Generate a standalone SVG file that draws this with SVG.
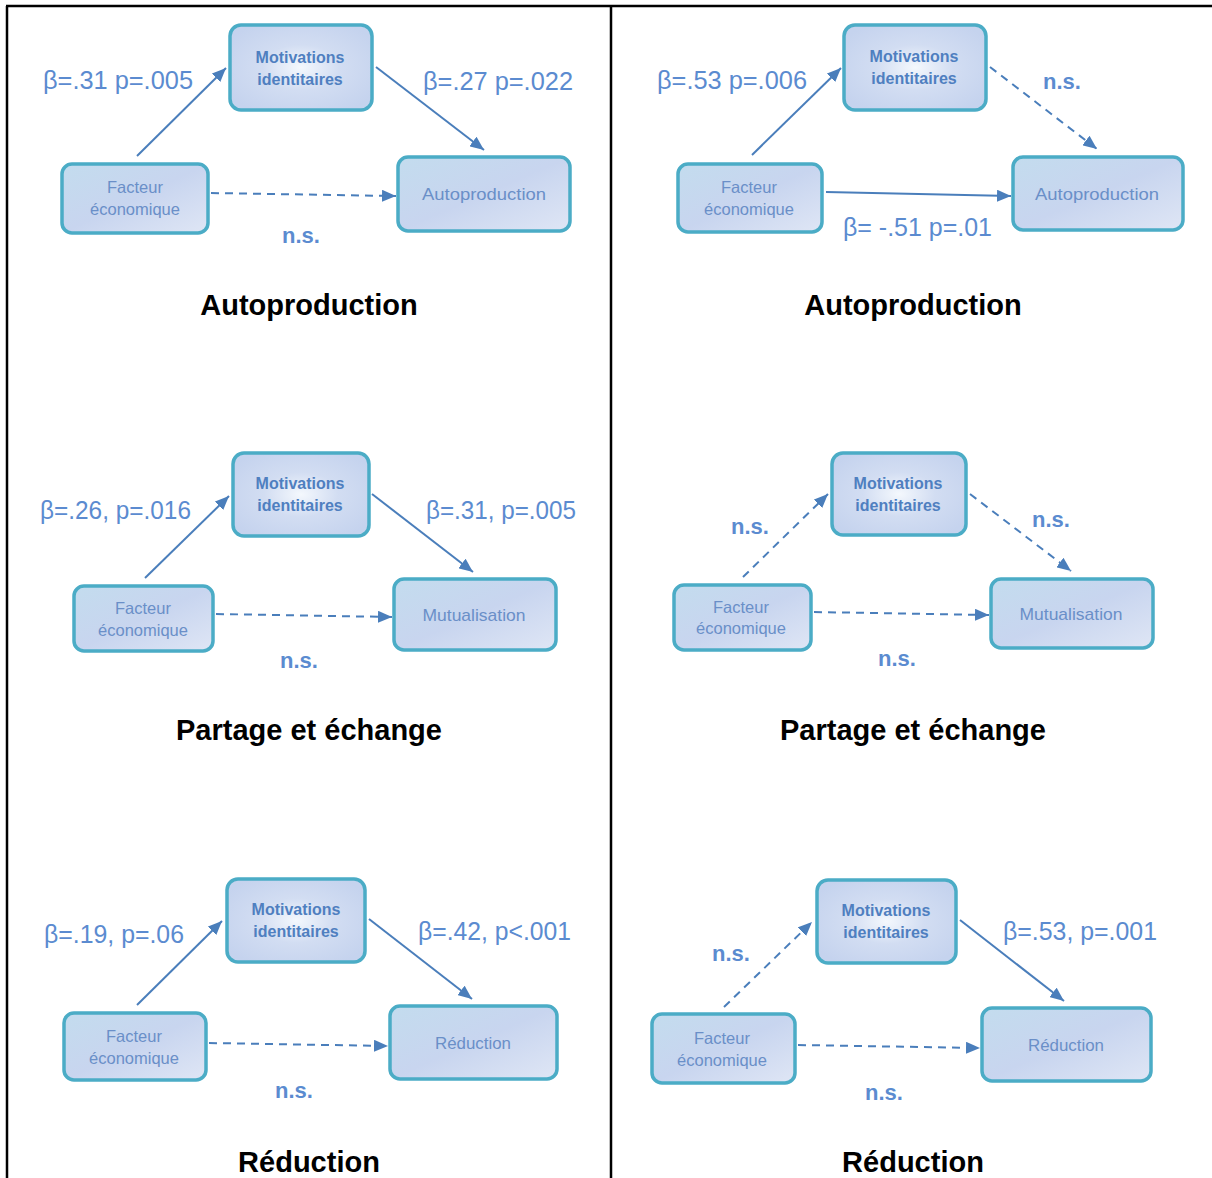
<svg xmlns="http://www.w3.org/2000/svg" width="1212" height="1178" viewBox="0 0 1212 1178">
<defs>
<linearGradient id="gBox" x1="0" y1="0" x2="1" y2="1">
<stop offset="0" stop-color="#c3dcee"/>
<stop offset="0.5" stop-color="#c8d5ef"/>
<stop offset="1" stop-color="#dfe6f5"/>
</linearGradient>
<radialGradient id="gMot" cx="0.5" cy="0.5" r="0.6">
<stop offset="0" stop-color="#f4f8fd"/>
<stop offset="0.45" stop-color="#d2ddf2"/>
<stop offset="1" stop-color="#c5d3ee"/>
</radialGradient>
<marker id="ah" markerUnits="userSpaceOnUse" markerWidth="14" markerHeight="12" refX="14" refY="6" orient="auto">
<path d="M0,0 L14,6 L0,12 z" fill="#4a7ebb"/>
</marker>
<style>
.box{fill:url(#gBox);stroke:#4bacc6;stroke-width:3.5}
.mot{fill:url(#gMot);stroke:#4bacc6;stroke-width:3.5}
.mt{font-family:"Liberation Sans",Arial,sans-serif;font-size:16px;font-weight:bold;fill:#4f7fc0;text-anchor:middle}
.nt{font-family:"Liberation Sans",Arial,sans-serif;font-size:16.5px;fill:#6a8fc8;text-anchor:middle}
.ot{font-family:"Liberation Sans",Arial,sans-serif;font-size:17px;fill:#6a8fc8;text-anchor:middle}
.lb{font-family:"Liberation Sans",Arial,sans-serif;font-size:26px;fill:#5b8bd0}
.ns{font-family:"Liberation Sans",Arial,sans-serif;font-size:22px;font-weight:bold;fill:#5b8bd0}
.tt{font-family:"Liberation Sans",Arial,sans-serif;font-size:29px;font-weight:bold;fill:#000;text-anchor:middle}
.a{stroke:#4a7ebb;stroke-width:2;fill:none;marker-end:url(#ah)}
.d{stroke-dasharray:8 6}
.frame{stroke:#000;stroke-width:2.5;fill:none}
</style>
</defs>
<rect x="0" y="0" width="1212" height="1178" fill="#fff"/>
<g id="frame">
<line class="frame" x1="6" y1="6" x2="1212" y2="6"/>
<line class="frame" x1="7" y1="6" x2="7" y2="1178"/>
<line class="frame" x1="611" y1="6" x2="611" y2="1178"/>
</g>

<g id="connectors">
<line class="a" x1="137" y1="156" x2="226" y2="68"/>
<line class="a" x1="376" y1="67" x2="484" y2="150"/>
<line class="a d" x1="211" y1="193" x2="396" y2="196"/>
<line class="a" x1="752" y1="155" x2="841" y2="68"/>
<line class="a d" x1="990" y1="67" x2="1097" y2="149"/>
<line class="a" x1="826" y1="192" x2="1011" y2="196"/>
<line class="a" x1="145" y1="578" x2="229" y2="496"/>
<line class="a" x1="372" y1="494" x2="473" y2="572"/>
<line class="a d" x1="216" y1="614" x2="392" y2="617"/>
<line class="a d" x1="743" y1="577" x2="828" y2="494"/>
<line class="a d" x1="970" y1="494" x2="1071" y2="571"/>
<line class="a d" x1="814" y1="612" x2="989" y2="615"/>
<line class="a" x1="137" y1="1005" x2="222" y2="921"/>
<line class="a" x1="369" y1="919" x2="472" y2="999"/>
<line class="a d" x1="209" y1="1043" x2="388" y2="1046"/>
<line class="a d" x1="724" y1="1007" x2="812" y2="922"/>
<line class="a" x1="960" y1="920" x2="1064" y2="1001"/>
<line class="a d" x1="798" y1="1045" x2="980" y2="1048"/>
</g>

<!-- Panel 1 -->
<g id="p1-mot"><rect class="mot" x="230" y="25" width="142" height="85" rx="11"/><text class="mt" x="300" y="63">Motivations</text><text class="mt" x="300" y="85">identitaires</text></g>
<g id="p1-fact"><rect class="box" x="62" y="164" width="146" height="69" rx="10"/><text class="nt" x="135" y="193">Facteur</text><text class="nt" x="135" y="215">économique</text></g>
<g id="p1-out"><rect class="box" x="398" y="157" width="172" height="74" rx="10"/><text class="ot" x="484" y="200" textLength="124" lengthAdjust="spacingAndGlyphs">Autoproduction</text></g>
<g id="p1-labels">
<text class="lb" x="43" y="89" textLength="150" lengthAdjust="spacingAndGlyphs">β=.31 p=.005</text>
<text class="lb" x="423" y="90" textLength="150" lengthAdjust="spacingAndGlyphs">β=.27 p=.022</text>
<text class="ns" x="282" y="243">n.s.</text>
<text class="tt" x="309" y="315">Autoproduction</text>
</g>

<!-- Panel 2 -->
<g id="p2-mot"><rect class="mot" x="844" y="25" width="142" height="85" rx="11"/><text class="mt" x="914" y="62">Motivations</text><text class="mt" x="914" y="84">identitaires</text></g>
<g id="p2-fact"><rect class="box" x="678" y="164" width="144" height="68" rx="10"/><text class="nt" x="749" y="193">Facteur</text><text class="nt" x="749" y="215">économique</text></g>
<g id="p2-out"><rect class="box" x="1013" y="157" width="170" height="73" rx="10"/><text class="ot" x="1097" y="200" textLength="124" lengthAdjust="spacingAndGlyphs">Autoproduction</text></g>
<g id="p2-labels">
<text class="lb" x="657" y="89" textLength="150" lengthAdjust="spacingAndGlyphs">β=.53 p=.006</text>
<text class="ns" x="1043" y="89">n.s.</text>
<text class="lb" x="843" y="236" textLength="149" lengthAdjust="spacingAndGlyphs">β= -.51 p=.01</text>
<text class="tt" x="913" y="315">Autoproduction</text>
</g>

<!-- Panel 3 -->
<g id="p3-mot"><rect class="mot" x="233" y="453" width="136" height="83" rx="11"/><text class="mt" x="300" y="489">Motivations</text><text class="mt" x="300" y="511">identitaires</text></g>
<g id="p3-fact"><rect class="box" x="74" y="586" width="139" height="65" rx="10"/><text class="nt" x="143" y="614">Facteur</text><text class="nt" x="143" y="636">économique</text></g>
<g id="p3-out"><rect class="box" x="394" y="579" width="162" height="71" rx="10"/><text class="ot" x="474" y="621" textLength="103" lengthAdjust="spacingAndGlyphs">Mutualisation</text></g>
<g id="p3-labels">
<text class="lb" x="40" y="519" textLength="151" lengthAdjust="spacingAndGlyphs">β=.26, p=.016</text>
<text class="lb" x="426" y="519" textLength="150" lengthAdjust="spacingAndGlyphs">β=.31, p=.005</text>
<text class="ns" x="280" y="668">n.s.</text>
<text class="tt" x="309" y="740">Partage et échange</text>
</g>

<!-- Panel 4 -->
<g id="p4-mot"><rect class="mot" x="832" y="453" width="134" height="82" rx="11"/><text class="mt" x="898" y="489">Motivations</text><text class="mt" x="898" y="511">identitaires</text></g>
<g id="p4-fact"><rect class="box" x="674" y="585" width="137" height="65" rx="10"/><text class="nt" x="741" y="613">Facteur</text><text class="nt" x="741" y="634">économique</text></g>
<g id="p4-out"><rect class="box" x="991" y="579" width="162" height="69" rx="10"/><text class="ot" x="1071" y="620" textLength="103" lengthAdjust="spacingAndGlyphs">Mutualisation</text></g>
<g id="p4-labels">
<text class="ns" x="731" y="534">n.s.</text>
<text class="ns" x="1032" y="527">n.s.</text>
<text class="ns" x="878" y="666">n.s.</text>
<text class="tt" x="913" y="740">Partage et échange</text>
</g>

<!-- Panel 5 -->
<g id="p5-mot"><rect class="mot" x="227" y="879" width="138" height="83" rx="11"/><text class="mt" x="296" y="915">Motivations</text><text class="mt" x="296" y="937">identitaires</text></g>
<g id="p5-fact"><rect class="box" x="64" y="1013" width="142" height="67" rx="10"/><text class="nt" x="134" y="1042">Facteur</text><text class="nt" x="134" y="1064">économique</text></g>
<g id="p5-out"><rect class="box" x="390" y="1006" width="167" height="73" rx="10"/><text class="ot" x="473" y="1049" textLength="76" lengthAdjust="spacingAndGlyphs">Réduction</text></g>
<g id="p5-labels">
<text class="lb" x="44" y="943" textLength="140" lengthAdjust="spacingAndGlyphs">β=.19, p=.06</text>
<text class="lb" x="418" y="940" textLength="153" lengthAdjust="spacingAndGlyphs">β=.42, p&lt;.001</text>
<text class="ns" x="275" y="1098">n.s.</text>
<text class="tt" x="309" y="1172">Réduction</text>
</g>

<!-- Panel 6 -->
<g id="p6-mot"><rect class="mot" x="817" y="880" width="139" height="83" rx="11"/><text class="mt" x="886" y="916">Motivations</text><text class="mt" x="886" y="938">identitaires</text></g>
<g id="p6-fact"><rect class="box" x="652" y="1014" width="143" height="69" rx="10"/><text class="nt" x="722" y="1044">Facteur</text><text class="nt" x="722" y="1066">économique</text></g>
<g id="p6-out"><rect class="box" x="982" y="1008" width="169" height="73" rx="10"/><text class="ot" x="1066" y="1051" textLength="76" lengthAdjust="spacingAndGlyphs">Réduction</text></g>
<g id="p6-labels">
<text class="ns" x="712" y="961">n.s.</text>
<text class="lb" x="1003" y="940" textLength="154" lengthAdjust="spacingAndGlyphs">β=.53, p=.001</text>
<text class="ns" x="865" y="1100">n.s.</text>
<text class="tt" x="913" y="1172">Réduction</text>
</g>
</svg>
